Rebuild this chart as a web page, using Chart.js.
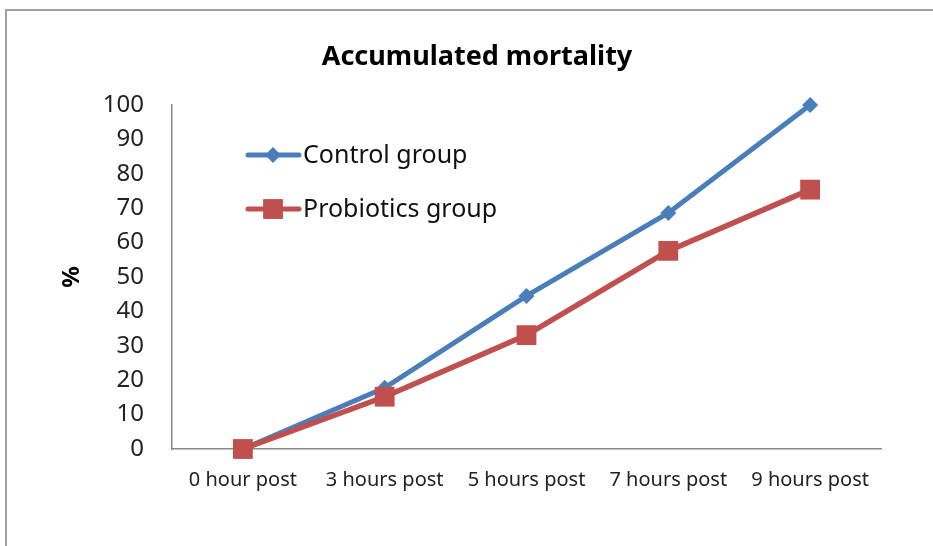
<!DOCTYPE html>
<html>
<head>
<meta charset="utf-8">
<script src="https://cdn.jsdelivr.net/npm/chart.js@4.4.1/dist/chart.umd.min.js"></script>
<style>
  html, body { margin: 0; padding: 0; background: #fff; }
  #wrap { position: relative; width: 933px; height: 546px; }
  #frame { position: absolute; left: 5px; top: 9px; width: 940px; height: 560px;
           border-top: 2px solid #a0a0a0; border-left: 2px solid #a0a0a0; box-sizing: border-box; }
  canvas { position: absolute; left: 0; top: 0; }
</style>
</head>
<body>
<div id="wrap">
  <div id="frame"></div>
  <canvas id="chart" width="933" height="546"></canvas>
</div>
<script>
const titleText = 'Accumulated mortality';
const categories = ['0 hour post', '3 hours post', '5 hours post', '7 hours post', '9 hours post'];
const controlGroup = [0, 17.8, 44.5, 68.6, 100];
const probioticsGroup = [0, 15.2, 33.1, 57.6, 75.4];
const yTicks = [0, 10, 20, 30, 40, 50, 60, 70, 80, 90, 100];

const blue = '#4a7ebb';
const red = '#c0504d';
const font = "'Noto Sans', 'Open Sans', sans-serif";

// title and in-plot legend, drawn like the Excel original
const decorations = {
  id: 'decorations',
  afterDraw(chart) {
    const ctx = chart.ctx;
    ctx.save();
    ctx.fillStyle = '#000';
    ctx.font = "bold 27px " + font;
    ctx.textAlign = 'center';
    ctx.textBaseline = 'middle';
    ctx.fillText(titleText, 477, 57);

    const items = [
      { label: 'Control group', color: blue, style: 'rectRot', r: 8, y: 155 },
      { label: 'Probiotics group', color: red, style: 'rect', r: 14, y: 209 }
    ];
    ctx.font = "25px " + font;
    ctx.textAlign = 'left';
    items.forEach((it) => {
      ctx.strokeStyle = it.color;
      ctx.lineWidth = 5;
      ctx.lineCap = 'round';
      ctx.beginPath();
      ctx.moveTo(248, it.y);
      ctx.lineTo(299, it.y);
      ctx.stroke();
      ctx.fillStyle = it.color;
      Chart.helpers.drawPoint(ctx, { pointStyle: it.style, radius: it.r, borderWidth: 0 }, 273, it.y);
      ctx.fillStyle = '#111';
      ctx.fillText(it.label, 303, it.y + 1);
    });
    ctx.restore();
  }
};

new Chart(document.getElementById('chart'), {
  type: 'line',
  data: {
    labels: categories,
    datasets: [
      {
        label: 'Control group',
        data: controlGroup,
        borderColor: blue,
        backgroundColor: blue,
        borderWidth: 5,
        pointStyle: 'rectRot',
        pointRadius: 8,
        pointBorderWidth: 0,
        clip: false,
        order: 1
      },
      {
        label: 'Probiotics group',
        data: probioticsGroup,
        borderColor: red,
        backgroundColor: red,
        borderWidth: 5.5,
        pointStyle: 'rect',
        pointRadius: 14,
        pointBorderWidth: 0,
        clip: false,
        order: 0
      }
    ]
  },
  options: {
    responsive: false,
    animation: false,
    layout: { padding: { top: 105, right: 52, left: 58, bottom: 0 } },
    plugins: {
      legend: { display: false },
      title: { display: false },
      tooltip: { enabled: false }
    },
    scales: {
      x: {
        offset: true,
        grid: { display: false, drawTicks: false, offset: true },
        border: { color: '#8a8a8a', width: 1.5 },
        ticks: { color: '#222', font: { family: font, size: 20 }, padding: 19, maxRotation: 0 },
        afterFit: (scale) => { scale.height = 97; }
      },
      y: {
        min: 0,
        max: 100,
        afterBuildTicks: (scale) => { scale.ticks = yTicks.map((v) => ({ value: v })); },
        grid: { display: false, drawTicks: false },
        border: { color: '#8a8a8a', width: 1.5 },
        ticks: { color: '#222', font: { family: font, size: 24 }, padding: 28 },
        title: { display: true, text: '%', color: '#000', font: { family: font, size: 24, weight: 'bold' }, padding: 0 },
        afterFit: (scale) => { scale.width = 114; }
      }
    }
  },
  plugins: [decorations]
});
</script>
</body>
</html>
